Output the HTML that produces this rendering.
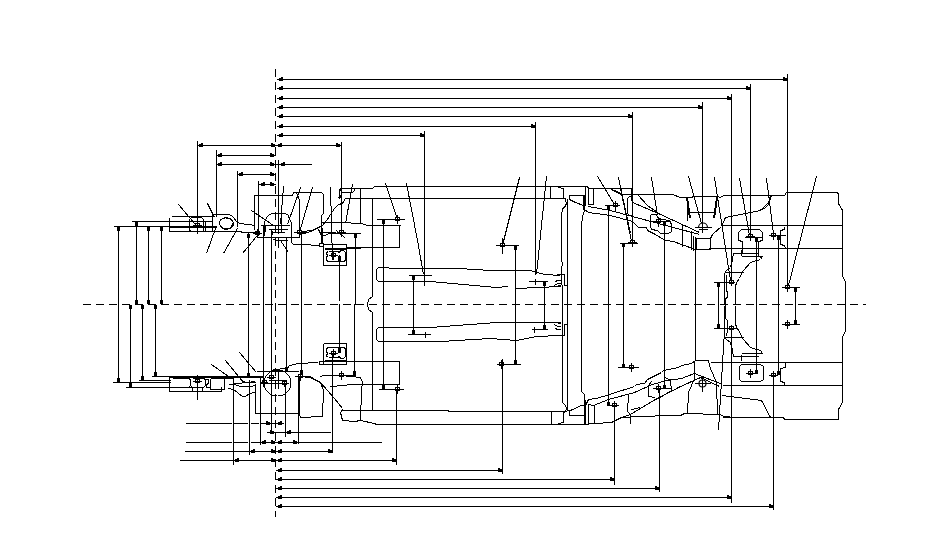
<!DOCTYPE html>
<html><head><meta charset="utf-8"><style>
html,body{margin:0;padding:0;background:#fff;width:950px;height:554px;overflow:hidden}
svg{display:block}
line,polyline,path,rect,circle,ellipse{stroke:#000;stroke-width:1;fill:none}
.f{fill:#000;stroke:none}
.c{shape-rendering:auto;stroke-width:1.2}
.d{stroke-dasharray:8 5}
.dv{stroke-dasharray:8 5}
</style></head><body>
<svg width="950" height="554" viewBox="0 0 950 554" shape-rendering="crispEdges">
<line x1="83" y1="304.5" x2="866" y2="304.5" class="d"/>
<line x1="275.5" y1="69" x2="275.5" y2="517" class="dv"/>
<line x1="277" y1="79.5" x2="788" y2="79.5"/>
<rect x="279" y="78" width="4" height="3" class="f"/>
<rect x="281" y="77" width="2" height="1" class="f"/>
<rect x="783" y="78" width="4" height="3" class="f"/>
<rect x="783" y="77" width="2" height="1" class="f"/>
<line x1="277" y1="88.5" x2="751" y2="88.5"/>
<rect x="279" y="87" width="4" height="3" class="f"/>
<rect x="281" y="86" width="2" height="1" class="f"/>
<rect x="746" y="87" width="4" height="3" class="f"/>
<rect x="746" y="86" width="2" height="1" class="f"/>
<line x1="277" y1="98.5" x2="732" y2="98.5"/>
<rect x="279" y="97" width="4" height="3" class="f"/>
<rect x="281" y="96" width="2" height="1" class="f"/>
<rect x="727" y="97" width="4" height="3" class="f"/>
<rect x="727" y="96" width="2" height="1" class="f"/>
<line x1="277" y1="107.5" x2="703" y2="107.5"/>
<rect x="279" y="106" width="4" height="3" class="f"/>
<rect x="281" y="105" width="2" height="1" class="f"/>
<rect x="698" y="106" width="4" height="3" class="f"/>
<rect x="698" y="105" width="2" height="1" class="f"/>
<line x1="277" y1="116.5" x2="633" y2="116.5"/>
<rect x="279" y="115" width="4" height="3" class="f"/>
<rect x="281" y="114" width="2" height="1" class="f"/>
<rect x="628" y="115" width="4" height="3" class="f"/>
<rect x="628" y="114" width="2" height="1" class="f"/>
<line x1="277" y1="126.5" x2="536" y2="126.5"/>
<rect x="279" y="125" width="4" height="3" class="f"/>
<rect x="281" y="124" width="2" height="1" class="f"/>
<rect x="531" y="125" width="4" height="3" class="f"/>
<rect x="531" y="124" width="2" height="1" class="f"/>
<line x1="277" y1="135.5" x2="425" y2="135.5"/>
<rect x="279" y="134" width="4" height="3" class="f"/>
<rect x="281" y="133" width="2" height="1" class="f"/>
<rect x="420" y="134" width="4" height="3" class="f"/>
<rect x="420" y="133" width="2" height="1" class="f"/>
<line x1="197" y1="145.5" x2="342" y2="145.5"/>
<rect x="199" y="144" width="4" height="3" class="f"/>
<rect x="201" y="143" width="2" height="1" class="f"/>
<rect x="271" y="144" width="4" height="3" class="f"/>
<rect x="271" y="143" width="2" height="1" class="f"/>
<rect x="278" y="144" width="4" height="3" class="f"/>
<rect x="280" y="143" width="2" height="1" class="f"/>
<rect x="336" y="144" width="4" height="3" class="f"/>
<rect x="336" y="143" width="2" height="1" class="f"/>
<line x1="197.5" y1="141" x2="197.5" y2="234"/>
<line x1="341.5" y1="142" x2="341.5" y2="231"/>
<line x1="216" y1="155.5" x2="276" y2="155.5"/>
<rect x="218" y="154" width="4" height="3" class="f"/>
<rect x="220" y="153" width="2" height="1" class="f"/>
<rect x="270" y="154" width="4" height="3" class="f"/>
<rect x="270" y="153" width="2" height="1" class="f"/>
<line x1="216" y1="164.5" x2="276" y2="164.5"/>
<rect x="218" y="163" width="4" height="3" class="f"/>
<rect x="220" y="162" width="2" height="1" class="f"/>
<rect x="270" y="163" width="4" height="3" class="f"/>
<rect x="270" y="162" width="2" height="1" class="f"/>
<line x1="275" y1="164.5" x2="312" y2="164.5"/>
<rect x="281" y="163" width="4" height="3" class="f"/>
<rect x="283" y="162" width="2" height="1" class="f"/>
<line x1="216.5" y1="150" x2="216.5" y2="217"/>
<line x1="237.5" y1="171" x2="237.5" y2="227"/>
<line x1="258.5" y1="181" x2="258.5" y2="236"/>
<line x1="278.5" y1="160" x2="278.5" y2="225"/>
<line x1="237" y1="174.5" x2="276" y2="174.5"/>
<rect x="239" y="173" width="4" height="3" class="f"/>
<rect x="241" y="172" width="2" height="1" class="f"/>
<rect x="270" y="173" width="4" height="3" class="f"/>
<rect x="270" y="172" width="2" height="1" class="f"/>
<line x1="259" y1="184.5" x2="276" y2="184.5"/>
<rect x="261" y="183" width="4" height="3" class="f"/>
<rect x="263" y="182" width="2" height="1" class="f"/>
<rect x="270" y="183" width="4" height="3" class="f"/>
<rect x="270" y="182" width="2" height="1" class="f"/>
<line x1="132" y1="221.5" x2="171" y2="221.5"/>
<line x1="114" y1="226.5" x2="171" y2="226.5"/>
<line x1="118.5" y1="226" x2="118.5" y2="382"/>
<rect x="117" y="227" width="3" height="4" class="f"/>
<rect x="119" y="229" width="1" height="2" class="f"/>
<rect x="117" y="378" width="3" height="4" class="f"/>
<rect x="119" y="378" width="1" height="2" class="f"/>
<line x1="136.5" y1="221" x2="136.5" y2="304"/>
<rect x="135" y="222" width="3" height="4" class="f"/>
<rect x="137" y="224" width="1" height="2" class="f"/>
<rect x="135" y="300" width="3" height="4" class="f"/>
<rect x="137" y="300" width="1" height="2" class="f"/>
<line x1="148.5" y1="226" x2="148.5" y2="304"/>
<rect x="147" y="227" width="3" height="4" class="f"/>
<rect x="149" y="229" width="1" height="2" class="f"/>
<rect x="147" y="300" width="3" height="4" class="f"/>
<rect x="149" y="300" width="1" height="2" class="f"/>
<line x1="161.5" y1="226" x2="161.5" y2="304"/>
<rect x="160" y="227" width="3" height="4" class="f"/>
<rect x="162" y="229" width="1" height="2" class="f"/>
<rect x="160" y="300" width="3" height="4" class="f"/>
<rect x="162" y="300" width="1" height="2" class="f"/>
<line x1="161" y1="304.5" x2="166" y2="304.5"/>
<line x1="130.5" y1="305" x2="130.5" y2="388"/>
<rect x="129" y="305" width="3" height="4" class="f"/>
<rect x="131" y="307" width="1" height="2" class="f"/>
<rect x="129" y="383" width="3" height="4" class="f"/>
<rect x="131" y="383" width="1" height="2" class="f"/>
<line x1="142.5" y1="305" x2="142.5" y2="381"/>
<rect x="141" y="305" width="3" height="4" class="f"/>
<rect x="143" y="307" width="1" height="2" class="f"/>
<rect x="141" y="376" width="3" height="4" class="f"/>
<rect x="143" y="376" width="1" height="2" class="f"/>
<line x1="155.5" y1="305" x2="155.5" y2="377"/>
<rect x="154" y="305" width="3" height="4" class="f"/>
<rect x="156" y="307" width="1" height="2" class="f"/>
<rect x="154" y="372" width="3" height="4" class="f"/>
<rect x="156" y="372" width="1" height="2" class="f"/>
<line x1="113" y1="382.5" x2="171" y2="382.5"/>
<line x1="126" y1="387.5" x2="171" y2="387.5"/>
<line x1="139" y1="380.5" x2="171" y2="380.5"/>
<line x1="152" y1="376.5" x2="171" y2="376.5"/>
<polyline points="171.5,216.5 212.5,216.5 213.5,214.5 229.5,214.5 232.5,216.5 237.5,222.5 240.5,223.5 255.5,225.5"/>
<line x1="169.5" y1="218" x2="169.5" y2="232"/>
<line x1="169" y1="231.5" x2="242" y2="231.5"/>
<line x1="241" y1="232.5" x2="257" y2="232.5"/>
<line x1="170" y1="221.5" x2="213" y2="221.5"/>
<line x1="170" y1="226.5" x2="217" y2="226.5"/>
<line x1="170" y1="227.5" x2="217" y2="227.5"/>
<polyline points="190.5,231.5 189.5,229.5 189.5,219.5 191.5,217.5 201.5,217.5 203.5,219.5 203.5,231.5"/>
<line x1="205.5" y1="222" x2="205.5" y2="232"/>
<line x1="212.5" y1="215" x2="212.5" y2="232"/>
<ellipse cx="226.5" cy="223.5" rx="7" ry="5.5" transform="rotate(15 226.5 223.5)"/>
<polyline points="220.5,219.5 225.5,217.5 230.5,218.5 233.5,222.5 230.5,228.5 224.5,229.5 220.5,226.5"/>
<line x1="178.5" y1="204.5" x2="195.5" y2="224.5"/>
<line x1="207.5" y1="203.5" x2="214.5" y2="217.5"/>
<line x1="206.5" y1="253.5" x2="215.5" y2="228.5"/>
<line x1="223.5" y1="253.5" x2="237.5" y2="228.5"/>
<line x1="242.5" y1="253.5" x2="256.5" y2="236.5"/>
<line x1="251.5" y1="210.5" x2="273.5" y2="225.5"/>
<line x1="254.5" y1="195" x2="254.5" y2="230"/>
<line x1="152" y1="376.5" x2="263" y2="376.5"/>
<line x1="170" y1="377.5" x2="263" y2="377.5"/>
<line x1="139" y1="380.5" x2="171" y2="380.5"/>
<line x1="126" y1="387.5" x2="193" y2="387.5"/>
<line x1="169.5" y1="376" x2="169.5" y2="392"/>
<line x1="169" y1="391.5" x2="222" y2="391.5"/>
<line x1="221.5" y1="387" x2="221.5" y2="392"/>
<polyline points="172.5,378.5 189.5,378.5 190.5,380.5 190.5,385.5 188.5,387.5 172.5,387.5"/>
<line x1="192.5" y1="387" x2="192.5" y2="392"/>
<line x1="202.5" y1="387" x2="202.5" y2="392"/>
<polyline points="224.5,378.5 233.5,378.5"/>
<line x1="224.5" y1="378" x2="224.5" y2="390"/>
<polyline points="205.5,379.5 208.5,379.5 208.5,383.5 206.5,384.5 206.5,387.5 209.5,387.5"/>
<polyline points="229.5,384.5 237.5,383.5 255.5,381.5"/>
<polyline points="192.5,378.5 204.5,378.5 205.5,380.5 205.5,385.5 203.5,387.5 192.5,387.5 190.5,385.5"/>
<polyline points="210.5,378.5 224.5,378.5 224.5,389.5 210.5,389.5 210.5,378.5"/>
<rect x="195.5" y="379.5" width="4" height="3" />
<line x1="193" y1="381.5" x2="202" y2="381.5"/>
<line x1="197.5" y1="377" x2="197.5" y2="386"/>
<rect x="247" y="373" width="3" height="4" class="f"/>
<rect x="249" y="373" width="1" height="2" class="f"/>
<rect x="247" y="234" width="3" height="4" class="f"/>
<rect x="249" y="236" width="1" height="2" class="f"/>
<rect x="195.5" y="223.5" width="4" height="3" />
<line x1="193" y1="225.5" x2="202" y2="225.5"/>
<line x1="197.5" y1="221" x2="197.5" y2="230"/>
<line x1="197.5" y1="375" x2="197.5" y2="400"/>
<line x1="211.5" y1="364.5" x2="228.5" y2="376.5"/>
<line x1="225.5" y1="360.5" x2="243.5" y2="382.5"/>
<line x1="239.5" y1="352.5" x2="256.5" y2="372.5"/>
<polyline points="228.5,388.5 233.5,389.5 242.5,396.5 245.5,396.5 249.5,393.5 255.5,392.5"/>
<polyline points="240.5,379.5 245.5,382.5 255.5,382.5"/>
<polyline points="234.5,384.5 240.5,386.5 250.5,386.5 255.5,385.5"/>
<polyline points="254.5,214.5 254.5,195.5 292.5,195.5 293.5,192.5 321.5,192.5 323.5,194.5 323.5,213.5 321.5,215.5 321.5,222.5"/>
<line x1="283.5" y1="186.5" x2="280.5" y2="224.5"/>
<line x1="300.5" y1="187.5" x2="287.5" y2="224.5"/>
<line x1="312.5" y1="187.5" x2="299.5" y2="232.5"/>
<line x1="330.5" y1="187" x2="332.5" y2="260"/>
<line x1="301.5" y1="232" x2="301.5" y2="304"/>
<line x1="286.5" y1="237" x2="286.5" y2="304"/>
<line x1="271.5" y1="230" x2="271.5" y2="304"/>
<line x1="263.5" y1="226" x2="263.5" y2="304"/>
<line x1="248.5" y1="233" x2="248.5" y2="377"/>
<polyline points="341.5,188.5 372.5,188.5 374.5,186.5 587.5,186.5"/>
<polyline points="345.5,198.5 565.5,198.5"/>
<line x1="360.5" y1="189" x2="360.5" y2="223"/>
<polyline points="321.5,222.5 340.5,222.5 361.5,223.5 367.5,225.5 400.5,225.5"/>
<line x1="352.5" y1="184.5" x2="345.5" y2="223.5"/>
<line x1="385.5" y1="183.5" x2="397.5" y2="219.5"/>
<line x1="406.5" y1="183.5" x2="417.5" y2="240.5"/>
<line x1="377" y1="219.5" x2="405" y2="219.5"/>
<rect x="382" y="220" width="3" height="4" class="f"/>
<rect x="384" y="222" width="1" height="2" class="f"/>
<rect x="395.5" y="217.5" width="4" height="3" />
<line x1="393" y1="219.5" x2="402" y2="219.5"/>
<line x1="397.5" y1="215" x2="397.5" y2="224"/>
<line x1="372.5" y1="199" x2="372.5" y2="297"/>
<polyline points="372.5,296.5 368.5,299.5 367.5,304.5 368.5,309.5 372.5,312.5"/>
<line x1="372.5" y1="312" x2="372.5" y2="411"/>
<polyline points="323.5,244.5 346.5,244.5 346.5,265.5 323.5,265.5 323.5,244.5"/>
<rect x="319.5" y="243.5" width="4" height="3" />
<line x1="325" y1="248.5" x2="361" y2="248.5"/>
<line x1="325" y1="249.5" x2="347" y2="249.5"/>
<polyline points="327.5,251.5 326.5,253.5 327.5,255.5 326.5,257.5 326.5,260.5 328.5,261.5 344.5,261.5 345.5,259.5 345.5,252.5 343.5,250.5 340.5,250.5 339.5,252.5 337.5,251.5 328.5,251.5"/>
<rect x="331.5" y="253.5" width="4" height="3" />
<line x1="329" y1="255.5" x2="338" y2="255.5"/>
<line x1="333.5" y1="251" x2="333.5" y2="260"/>
<rect x="338" y="256" width="3" height="5" class="f"/>
<polyline points="323.5,343.5 346.5,343.5 346.5,364.5 323.5,364.5 323.5,343.5"/>
<rect x="319.5" y="361.5" width="4" height="3" />
<line x1="325" y1="360.5" x2="347" y2="360.5"/>
<polyline points="327.5,357.5 326.5,355.5 327.5,353.5 326.5,351.5 326.5,348.5 328.5,347.5 344.5,347.5 345.5,349.5 345.5,356.5 343.5,358.5 340.5,358.5 339.5,356.5 337.5,357.5 328.5,357.5"/>
<rect x="331.5" y="351.5" width="4" height="3" />
<line x1="329" y1="353.5" x2="338" y2="353.5"/>
<line x1="333.5" y1="349" x2="333.5" y2="358"/>
<rect x="338" y="348" width="3" height="5" class="f"/>
<line x1="321.5" y1="222" x2="321.5" y2="244"/>
<line x1="322.5" y1="228" x2="322.5" y2="244"/>
<polyline points="302.5,231.5 311.5,230.5 316.5,229.5"/>
<polyline points="317.5,228.5 320.5,232.5 335.5,232.5"/>
<polyline points="322.5,235.5 325.5,235.5 328.5,233.5 335.5,233.5"/>
<polyline points="292.5,244.5 302.5,244.5 319.5,245.5"/>
<line x1="257" y1="237.5" x2="289" y2="237.5"/>
<line x1="339.5" y1="255" x2="339.5" y2="301"/>
<polyline points="345.5,198.5 342.5,203.5 338.5,204.5 334.5,208.5 330.5,214.5 327.5,219.5 322.5,225.5 310.5,231.5 300.5,234.5"/>
<polyline points="339.5,188.5 354.5,188.5 354.5,190.5 352.5,192.5 341.5,192.5"/>
<line x1="339.5" y1="189" x2="339.5" y2="199"/>
<line x1="338" y1="197.5" x2="342" y2="197.5"/>
<rect x="340" y="189" width="1" height="2" class="f"/>
<rect x="340" y="195" width="1" height="2" class="f"/>
<polyline points="378.5,267.5 388.5,267.5 389.5,268.5 458.5,268.5 490.5,270.5 530.5,270.5 544.5,274.5 560.5,275.5"/>
<polyline points="378.5,267.5 376.5,269.5 376.5,279.5 378.5,281.5 430.5,281.5 496.5,287.5 508.5,286.5"/>
<polyline points="516.5,288.5 560.5,286.5"/>
<polyline points="378.5,327.5 376.5,329.5 376.5,339.5 378.5,341.5 440.5,341.5 490.5,338.5 516.5,340.5 536.5,336.5 560.5,335.5"/>
<polyline points="378.5,327.5 430.5,327.5 496.5,322.5 560.5,322.5"/>
<line x1="413.5" y1="276" x2="413.5" y2="334"/>
<rect x="412" y="276" width="3" height="4" class="f"/>
<rect x="414" y="278" width="1" height="2" class="f"/>
<rect x="412" y="330" width="3" height="4" class="f"/>
<rect x="414" y="330" width="1" height="2" class="f"/>
<line x1="409" y1="275.5" x2="432" y2="275.5"/>
<line x1="408" y1="334.5" x2="431" y2="334.5"/>
<line x1="422.5" y1="334.5" x2="428.5" y2="334.5"/><line x1="425.5" y1="331.5" x2="425.5" y2="337.5"/>
<line x1="424.5" y1="131" x2="424.5" y2="286"/>
<line x1="515.5" y1="246" x2="515.5" y2="365"/>
<rect x="514" y="246" width="3" height="4" class="f"/>
<rect x="516" y="248" width="1" height="2" class="f"/>
<rect x="514" y="360" width="3" height="4" class="f"/>
<rect x="516" y="360" width="1" height="2" class="f"/>
<line x1="544.5" y1="281" x2="544.5" y2="330"/>
<rect x="543" y="282" width="3" height="4" class="f"/>
<rect x="545" y="284" width="1" height="2" class="f"/>
<rect x="543" y="325" width="3" height="4" class="f"/>
<rect x="545" y="325" width="1" height="2" class="f"/>
<line x1="529" y1="281.5" x2="548" y2="281.5"/>
<line x1="536" y1="329.5" x2="548" y2="329.5"/>
<line x1="532.5" y1="281.5" x2="538.5" y2="281.5"/><line x1="535.5" y1="278.5" x2="535.5" y2="284.5"/>
<line x1="531.5" y1="329.5" x2="537.5" y2="329.5"/><line x1="534.5" y1="326.5" x2="534.5" y2="332.5"/>
<line x1="355.5" y1="234" x2="355.5" y2="305"/>
<line x1="383.5" y1="220" x2="383.5" y2="305"/>
<line x1="346" y1="247.5" x2="400" y2="247.5"/>
<line x1="399.5" y1="225" x2="399.5" y2="248"/>
<line x1="417.5" y1="240.5" x2="423.5" y2="274.5"/>
<line x1="535.5" y1="122" x2="535.5" y2="275"/>
<line x1="550.5" y1="186" x2="550.5" y2="199"/>
<line x1="496" y1="245.5" x2="519" y2="245.5"/>
<rect x="500.5" y="243.5" width="4" height="3" />
<line x1="498" y1="245.5" x2="507" y2="245.5"/>
<line x1="502.5" y1="241" x2="502.5" y2="250"/>
<line x1="502.5" y1="238" x2="502.5" y2="254"/>
<line x1="519.5" y1="177.5" x2="502.5" y2="245.5"/>
<line x1="546.5" y1="176.5" x2="536.5" y2="274.5"/>
<polyline points="560.5,186.5 587.5,186.5 588.5,188.5 631.5,188.5"/>
<polyline points="558.5,187.5 563.5,188.5 563.5,198.5"/>
<polyline points="565.5,199.5 566.5,203.5 564.5,207.5 562.5,208.5 561.5,215.5 561.5,260.5 562.5,263.5 561.5,268.5 562.5,300.5 562.5,402.5 565.5,405.5 566.5,408.5 565.5,411.5 563.5,412.5 563.5,422.5 558.5,423.5"/>
<line x1="567.5" y1="199" x2="567.5" y2="411"/>
<polyline points="569.5,199.5 569.5,195.5 583.5,195.5"/>
<polyline points="569.5,199.5 575.5,202.5 583.5,205.5"/>
<line x1="583.5" y1="195" x2="583.5" y2="210"/>
<line x1="584.5" y1="195" x2="584.5" y2="210"/>
<polyline points="584.5,210.5 582.5,216.5 581.5,225.5 581.5,391.5 584.5,394.5 584.5,424.5"/>
<line x1="585.5" y1="400" x2="585.5" y2="425"/>
<line x1="585.5" y1="186" x2="585.5" y2="206"/>
<polyline points="588.5,188.5 588.5,204.5 593.5,204.5 593.5,188.5"/>
<polyline points="611.5,189.5 621.5,194.5 640.5,194.5"/>
<line x1="632.5" y1="112" x2="632.5" y2="242"/>
<line x1="597.5" y1="176.5" x2="614.5" y2="204.5"/>
<line x1="618.5" y1="177.5" x2="630.5" y2="233.5"/>
<line x1="605" y1="205.5" x2="620" y2="205.5"/>
<rect x="613.5" y="203.5" width="4" height="3" />
<line x1="611" y1="205.5" x2="620" y2="205.5"/>
<line x1="615.5" y1="201" x2="615.5" y2="210"/>
<line x1="615.5" y1="201" x2="615.5" y2="211"/>
<rect x="607" y="206" width="3" height="4" class="f"/>
<rect x="609" y="208" width="1" height="2" class="f"/>
<line x1="263.5" y1="304" x2="263.5" y2="387"/>
<line x1="271.5" y1="304" x2="271.5" y2="430"/>
<line x1="286.5" y1="304" x2="286.5" y2="371"/>
<rect x="285" y="367" width="3" height="4" class="f"/>
<rect x="287" y="367" width="1" height="2" class="f"/>
<line x1="301.5" y1="304" x2="301.5" y2="374"/>
<rect x="300" y="370" width="3" height="4" class="f"/>
<rect x="302" y="370" width="1" height="2" class="f"/>
<line x1="339.5" y1="304" x2="339.5" y2="351"/>
<rect x="338" y="347" width="3" height="4" class="f"/>
<rect x="340" y="347" width="1" height="2" class="f"/>
<line x1="354.5" y1="304" x2="354.5" y2="375"/>
<rect x="353" y="371" width="3" height="4" class="f"/>
<rect x="355" y="371" width="1" height="2" class="f"/>
<line x1="383.5" y1="304" x2="383.5" y2="389"/>
<rect x="382" y="385" width="3" height="4" class="f"/>
<rect x="384" y="385" width="1" height="2" class="f"/>
<line x1="249.5" y1="380" x2="249.5" y2="455"/>
<line x1="260.5" y1="376" x2="260.5" y2="445"/>
<line x1="298.5" y1="377" x2="298.5" y2="444"/>
<line x1="332.5" y1="354" x2="332.5" y2="453"/>
<line x1="396.5" y1="389" x2="396.5" y2="465"/>
<line x1="299.5" y1="377" x2="299.5" y2="416"/>
<polyline points="318.5,361.5 399.5,361.5 399.5,384.5 360.5,384.5"/>
<polyline points="298.5,376.5 310.5,377.5 320.5,382.5 323.5,390.5 322.5,416.5 300.5,417.5 298.5,410.5"/>
<polyline points="320.5,376.5 323.5,375.5 340.5,375.5 360.5,377.5 362.5,382.5 361.5,390.5 360.5,420.5 354.5,421.5 342.5,420.5 340.5,412.5 342.5,409.5"/>
<line x1="342" y1="410.5" x2="449" y2="410.5"/>
<line x1="448" y1="411.5" x2="566" y2="411.5"/>
<line x1="376" y1="424.5" x2="589" y2="424.5"/>
<line x1="551.5" y1="411" x2="551.5" y2="425"/>
<polyline points="360.5,420.5 374.5,423.5 376.5,424.5"/>
<polyline points="320.5,382.5 334.5,398.5 342.5,408.5"/>
<ellipse cx="277.5" cy="383" rx="13.5" ry="13"/>
<line x1="255.5" y1="384" x2="255.5" y2="414"/>
<line x1="255" y1="413.5" x2="299" y2="413.5"/>
<line x1="342" y1="375.5" x2="356" y2="375.5"/>
<rect x="339.5" y="373.5" width="4" height="3" />
<line x1="337" y1="375.5" x2="346" y2="375.5"/>
<line x1="341.5" y1="371" x2="341.5" y2="380"/>
<line x1="379" y1="389.5" x2="404" y2="389.5"/>
<rect x="395.5" y="387.5" width="4" height="3" />
<line x1="393" y1="389.5" x2="402" y2="389.5"/>
<line x1="397.5" y1="385" x2="397.5" y2="394"/>
<line x1="497" y1="364.5" x2="521" y2="364.5"/>
<rect x="499.5" y="362.5" width="4" height="3" />
<line x1="497" y1="364.5" x2="506" y2="364.5"/>
<line x1="501.5" y1="360" x2="501.5" y2="369"/>
<line x1="502.5" y1="359" x2="502.5" y2="474"/>
<line x1="186" y1="423.5" x2="232" y2="423.5"/>
<line x1="234" y1="423.5" x2="248" y2="423.5"/>
<line x1="251" y1="423.5" x2="259" y2="423.5"/>
<line x1="261" y1="423.5" x2="284" y2="423.5"/>
<rect x="266" y="422" width="4" height="3" class="f"/>
<rect x="266" y="421" width="2" height="1" class="f"/>
<rect x="278" y="422" width="4" height="3" class="f"/>
<rect x="280" y="421" width="2" height="1" class="f"/>
<line x1="267" y1="432.5" x2="331" y2="432.5"/>
<rect x="270" y="431" width="4" height="3" class="f"/>
<rect x="270" y="430" width="2" height="1" class="f"/>
<rect x="287" y="431" width="4" height="3" class="f"/>
<rect x="289" y="430" width="2" height="1" class="f"/>
<line x1="186" y1="442.5" x2="232" y2="442.5"/>
<line x1="234" y1="442.5" x2="248" y2="442.5"/>
<line x1="251" y1="442.5" x2="382" y2="442.5"/>
<rect x="262" y="441" width="4" height="3" class="f"/>
<rect x="264" y="440" width="2" height="1" class="f"/>
<rect x="271" y="441" width="4" height="3" class="f"/>
<rect x="271" y="440" width="2" height="1" class="f"/>
<rect x="278" y="441" width="4" height="3" class="f"/>
<rect x="280" y="440" width="2" height="1" class="f"/>
<rect x="293" y="441" width="4" height="3" class="f"/>
<rect x="293" y="440" width="2" height="1" class="f"/>
<line x1="185" y1="451.5" x2="333" y2="451.5"/>
<rect x="251" y="450" width="4" height="3" class="f"/>
<rect x="253" y="449" width="2" height="1" class="f"/>
<rect x="271" y="450" width="4" height="3" class="f"/>
<rect x="271" y="449" width="2" height="1" class="f"/>
<rect x="278" y="450" width="4" height="3" class="f"/>
<rect x="280" y="449" width="2" height="1" class="f"/>
<rect x="328" y="450" width="4" height="3" class="f"/>
<rect x="328" y="449" width="2" height="1" class="f"/>
<line x1="180" y1="460.5" x2="397" y2="460.5"/>
<rect x="235" y="459" width="4" height="3" class="f"/>
<rect x="237" y="458" width="2" height="1" class="f"/>
<rect x="271" y="459" width="4" height="3" class="f"/>
<rect x="271" y="458" width="2" height="1" class="f"/>
<rect x="278" y="459" width="4" height="3" class="f"/>
<rect x="280" y="458" width="2" height="1" class="f"/>
<rect x="392" y="459" width="4" height="3" class="f"/>
<rect x="392" y="458" width="2" height="1" class="f"/>
<line x1="276" y1="470.5" x2="503" y2="470.5"/>
<rect x="278" y="469" width="4" height="3" class="f"/>
<rect x="280" y="468" width="2" height="1" class="f"/>
<rect x="498" y="469" width="4" height="3" class="f"/>
<rect x="498" y="468" width="2" height="1" class="f"/>
<line x1="276" y1="479.5" x2="615" y2="479.5"/>
<rect x="278" y="478" width="4" height="3" class="f"/>
<rect x="280" y="477" width="2" height="1" class="f"/>
<rect x="610" y="478" width="4" height="3" class="f"/>
<rect x="610" y="477" width="2" height="1" class="f"/>
<line x1="276" y1="488.5" x2="660" y2="488.5"/>
<rect x="278" y="487" width="4" height="3" class="f"/>
<rect x="280" y="486" width="2" height="1" class="f"/>
<rect x="655" y="487" width="4" height="3" class="f"/>
<rect x="655" y="486" width="2" height="1" class="f"/>
<line x1="276" y1="497.5" x2="732" y2="497.5"/>
<rect x="278" y="496" width="4" height="3" class="f"/>
<rect x="280" y="495" width="2" height="1" class="f"/>
<rect x="727" y="496" width="4" height="3" class="f"/>
<rect x="727" y="495" width="2" height="1" class="f"/>
<line x1="276" y1="506.5" x2="774" y2="506.5"/>
<rect x="278" y="505" width="4" height="3" class="f"/>
<rect x="280" y="504" width="2" height="1" class="f"/>
<rect x="769" y="505" width="4" height="3" class="f"/>
<rect x="769" y="504" width="2" height="1" class="f"/>
<line x1="233.5" y1="377" x2="233.5" y2="465"/>
<line x1="285.5" y1="384" x2="285.5" y2="437"/>
<line x1="731.5" y1="94" x2="731.5" y2="280"/>
<line x1="731.5" y1="331" x2="731.5" y2="503"/>
<polyline points="622.5,194.5 672.5,194.5 680.5,197.5 691.5,197.5 693.5,196.5 717.5,196.5 720.5,197.5 723.5,195.5 784.5,195.5 786.5,192.5 837.5,192.5"/>
<line x1="620" y1="243.5" x2="638" y2="243.5"/>
<rect x="630.5" y="240.5" width="4" height="3" />
<line x1="628" y1="242.5" x2="637" y2="242.5"/>
<line x1="632.5" y1="238" x2="632.5" y2="247"/>
<rect x="622" y="243" width="3" height="4" class="f"/>
<rect x="624" y="245" width="1" height="2" class="f"/>
<line x1="620.5" y1="188.5" x2="631.5" y2="241.5"/>
<polyline points="686.5,197.5 689.5,218.5"/>
<polyline points="687.5,197.5 690.5,218.5"/>
<polyline points="717.5,197.5 714.5,218.5"/>
<polyline points="716.5,197.5 713.5,218.5"/>
<polyline points="689.5,212.5 714.5,212.5"/>
<path d="M698.5,227.5 A4.5,4.5 0 0 1 707.5,227.5" class="c"/>
<line x1="695" y1="227.5" x2="712" y2="227.5"/>
<line x1="699" y1="229.5" x2="708" y2="229.5"/>
<line x1="702.5" y1="219" x2="702.5" y2="233"/>
<polyline points="696.5,238.5 696.5,249.5 710.5,249.5 710.5,238.5 712.5,234.5 721.5,226.5"/>
<line x1="696" y1="238.5" x2="711" y2="238.5"/>
<line x1="693.5" y1="236" x2="693.5" y2="251"/>
<rect x="656.5" y="219.5" width="4" height="3" />
<line x1="654" y1="221.5" x2="663" y2="221.5"/>
<line x1="658.5" y1="217" x2="658.5" y2="226"/>
<line x1="652" y1="221.5" x2="669" y2="221.5"/>
<line x1="658.5" y1="217" x2="658.5" y2="227"/>
<rect x="663" y="222" width="3" height="4" class="f"/>
<rect x="665" y="224" width="1" height="2" class="f"/>
<line x1="721" y1="225.5" x2="842" y2="225.5"/>
<polyline points="721.5,226.5 725.5,217.5 760.5,210.5 768.5,202.5 770.5,195.5"/>
<polyline points="741.5,229.5 759.5,229.5 762.5,232.5 762.5,240.5 758.5,241.5 758.5,256.5 762.5,257.5"/>
<polyline points="741.5,229.5 738.5,232.5 738.5,240.5 742.5,241.5 742.5,253.5 733.5,253.5"/>
<rect x="748.5" y="234.5" width="4" height="3" />
<line x1="746" y1="236.5" x2="755" y2="236.5"/>
<line x1="750.5" y1="232" x2="750.5" y2="241"/>
<line x1="745" y1="237.5" x2="762" y2="237.5"/>
<line x1="750.5" y1="84" x2="750.5" y2="235"/>
<line x1="702.5" y1="102" x2="702.5" y2="222"/>
<rect x="755" y="238" width="3" height="4" class="f"/>
<rect x="757" y="240" width="1" height="2" class="f"/>
<polyline points="784.5,226.5 784.5,229.5 780.5,230.5 780.5,244.5 784.5,245.5 785.5,248.5"/>
<rect x="771.5" y="233.5" width="4" height="3" />
<line x1="769" y1="235.5" x2="778" y2="235.5"/>
<line x1="773.5" y1="231" x2="773.5" y2="240"/>
<line x1="769" y1="235.5" x2="786" y2="235.5"/>
<rect x="777" y="236" width="3" height="4" class="f"/>
<rect x="779" y="238" width="1" height="2" class="f"/>
<line x1="787.5" y1="74" x2="787.5" y2="285"/>
<line x1="688.5" y1="176.5" x2="701.5" y2="223.5"/>
<line x1="714.5" y1="177.5" x2="730.5" y2="280.5"/>
<line x1="739.5" y1="178.5" x2="749.5" y2="235.5"/>
<line x1="766.5" y1="178.5" x2="773.5" y2="233.5"/>
<polyline points="835.5,192.5 837.5,192.5 838.5,194.5 838.5,203.5 842.5,210.5 842.5,276.5 845.5,281.5 845.5,330.5 842.5,337.5 842.5,402.5"/>
<polyline points="760.5,209.5 764.5,208.5 768.5,204.5 771.5,195.5"/>
<line x1="816.5" y1="176.5" x2="788.5" y2="285.5"/>
<rect x="785.5" y="285.5" width="4" height="3" />
<line x1="783" y1="287.5" x2="792" y2="287.5"/>
<line x1="787.5" y1="283" x2="787.5" y2="292"/>
<line x1="782" y1="287.5" x2="800" y2="287.5"/>
<line x1="782" y1="324.5" x2="800" y2="324.5"/>
<rect x="785.5" y="322.5" width="4" height="3" />
<line x1="783" y1="324.5" x2="792" y2="324.5"/>
<line x1="787.5" y1="320" x2="787.5" y2="329"/>
<line x1="795.5" y1="288" x2="795.5" y2="324"/>
<rect x="794" y="288" width="3" height="4" class="f"/>
<rect x="796" y="290" width="1" height="2" class="f"/>
<rect x="794" y="320" width="3" height="4" class="f"/>
<rect x="796" y="320" width="1" height="2" class="f"/>
<line x1="695.5" y1="237" x2="695.5" y2="361"/>
<polyline points="741.5,256.5 762.5,256.5 760.5,259.5 753.5,261.5 750.5,262.5 743.5,270.5 741.5,273.5 739.5,278.5 736.5,282.5 735.5,286.5 735.5,304.5"/>
<polyline points="735.5,305.5 735.5,323.5 736.5,327.5 739.5,331.5 741.5,336.5 743.5,339.5 750.5,347.5 753.5,348.5 760.5,350.5 762.5,353.5 741.5,353.5"/>
<polyline points="733.5,253.5 732.5,259.5 730.5,267.5 726.5,270.5 724.5,273.5 724.5,304.5"/>
<polyline points="724.5,305.5 724.5,336.5 726.5,339.5 730.5,342.5 732.5,350.5 733.5,356.5"/>
<polyline points="741.5,249.5 741.5,255.5"/>
<polyline points="741.5,354.5 741.5,360.5"/>
<line x1="733" y1="253.5" x2="759" y2="253.5"/>
<line x1="733" y1="356.5" x2="759" y2="356.5"/>
<polyline points="726.5,274.5 726.5,290.5 727.5,292.5 727.5,297.5 725.5,298.5 725.5,318.5 727.5,320.5 727.5,330.5 726.5,336.5"/>
<line x1="718.5" y1="283" x2="718.5" y2="328"/>
<rect x="717" y="283" width="3" height="4" class="f"/>
<rect x="719" y="285" width="1" height="2" class="f"/>
<rect x="717" y="324" width="3" height="4" class="f"/>
<rect x="719" y="324" width="1" height="2" class="f"/>
<line x1="714" y1="282.5" x2="731" y2="282.5"/>
<line x1="714" y1="328.5" x2="737" y2="328.5"/>
<rect x="729.5" y="280.5" width="4" height="3" />
<line x1="728" y1="282.5" x2="735" y2="282.5"/>
<line x1="731.5" y1="279" x2="731.5" y2="286"/>
<rect x="729.5" y="326.5" width="4" height="3" />
<line x1="728" y1="328.5" x2="735" y2="328.5"/>
<line x1="731.5" y1="325" x2="731.5" y2="332"/>
<line x1="725" y1="337.5" x2="744" y2="337.5"/>
<line x1="725" y1="272.5" x2="744" y2="272.5"/>
<line x1="711" y1="362.5" x2="843" y2="362.5"/>
<line x1="709" y1="248.5" x2="843" y2="248.5"/>
<line x1="608.5" y1="206" x2="608.5" y2="406"/>
<rect x="607" y="402" width="3" height="4" class="f"/>
<rect x="609" y="402" width="1" height="2" class="f"/>
<rect x="612.5" y="403.5" width="4" height="3" />
<line x1="610" y1="405.5" x2="619" y2="405.5"/>
<line x1="614.5" y1="401" x2="614.5" y2="410"/>
<line x1="614.5" y1="405" x2="614.5" y2="485"/>
<line x1="623.5" y1="243" x2="623.5" y2="368"/>
<rect x="622" y="364" width="3" height="4" class="f"/>
<rect x="624" y="364" width="1" height="2" class="f"/>
<rect x="629.5" y="365.5" width="4" height="3" />
<line x1="627" y1="367.5" x2="636" y2="367.5"/>
<line x1="631.5" y1="363" x2="631.5" y2="372"/>
<line x1="618" y1="367.5" x2="639" y2="367.5"/>
<line x1="664.5" y1="222" x2="664.5" y2="389"/>
<rect x="663" y="385" width="3" height="4" class="f"/>
<rect x="665" y="385" width="1" height="2" class="f"/>
<rect x="656.5" y="386.5" width="4" height="3" />
<line x1="654" y1="388.5" x2="663" y2="388.5"/>
<line x1="658.5" y1="384" x2="658.5" y2="393"/>
<line x1="653" y1="388.5" x2="671" y2="388.5"/>
<line x1="659.5" y1="388" x2="659.5" y2="492"/>
<line x1="695.5" y1="237" x2="695.5" y2="361"/>
<circle cx="702.5" cy="383.5" r="3.5" class="c"/>
<line x1="695" y1="383.5" x2="711" y2="383.5"/>
<line x1="702.5" y1="376" x2="702.5" y2="392"/>
<polyline points="630.5,416.5 680.5,415.5 684.5,413.5 720.5,414.5 723.5,416.5 735.5,417.5"/>
<polyline points="694.5,361.5 694.5,378.5 688.5,392.5 687.5,414.5"/>
<polyline points="708.5,361.5 710.5,368.5 716.5,382.5 717.5,414.5"/>
<polyline points="665.5,377.5 670.5,380.5 671.5,390.5 666.5,393.5"/>
<polyline points="651.5,381.5 648.5,385.5 648.5,396.5 655.5,397.5"/>
<line x1="724.5" y1="330.5" x2="718.5" y2="430.5"/>
<line x1="756.5" y1="238" x2="756.5" y2="374"/>
<rect x="755" y="370" width="3" height="4" class="f"/>
<rect x="757" y="370" width="1" height="2" class="f"/>
<line x1="778.5" y1="237" x2="778.5" y2="375"/>
<rect x="777" y="371" width="3" height="4" class="f"/>
<rect x="779" y="371" width="1" height="2" class="f"/>
<rect x="748.5" y="371.5" width="4" height="3" />
<line x1="746" y1="373.5" x2="755" y2="373.5"/>
<line x1="750.5" y1="369" x2="750.5" y2="378"/>
<rect x="771.5" y="373.5" width="4" height="3" />
<line x1="769" y1="375.5" x2="778" y2="375.5"/>
<line x1="773.5" y1="371" x2="773.5" y2="380"/>
<line x1="773.5" y1="375" x2="773.5" y2="510"/>
<line x1="723" y1="385.5" x2="843" y2="385.5"/>
<polyline points="842.5,402.5 838.5,409.5 838.5,419.5 784.5,419.5 783.5,417.5 722.5,417.5"/>
<polyline points="741.5,364.5 760.5,364.5 763.5,366.5 763.5,379.5 760.5,381.5 741.5,381.5 739.5,379.5 739.5,366.5 741.5,364.5"/>
<polyline points="785.5,362.5 785.5,367.5 780.5,368.5 780.5,381.5 784.5,382.5 784.5,385.5"/>
<polyline points="722.5,395.5 761.5,400.5 770.5,417.5"/>
<polyline points="330.5,386.5 343.5,385.5 351.5,384.5 362.5,384.5"/>
<polyline points="296.5,192.5 299.5,200.5 299.5,229.5"/>
<line x1="317.5" y1="228.5" x2="323.5" y2="238.5"/>
<line x1="336.5" y1="230.5" x2="345.5" y2="238.5"/>
<polyline points="264.5,235.5 264.5,222.5 266.5,217.5 269.5,214.5 272.5,213.5 285.5,213.5 288.5,215.5 289.5,219.5 291.5,222.5 291.5,242.5 293.5,244.5"/>
<line x1="257" y1="237.5" x2="300" y2="237.5"/>
<line x1="261" y1="225.5" x2="290" y2="225.5"/>
<line x1="269" y1="229.5" x2="288" y2="229.5"/>
<line x1="272" y1="232.5" x2="285" y2="232.5"/>
<line x1="278.5" y1="209" x2="278.5" y2="234"/>
<line x1="281.5" y1="211" x2="281.5" y2="233"/>
<rect x="297.5" y="230.5" width="4" height="3" />
<line x1="294" y1="232.5" x2="305" y2="232.5"/>
<line x1="299.5" y1="227" x2="299.5" y2="238"/>
<rect x="255.5" y="231.5" width="4" height="3" />
<line x1="253" y1="233.5" x2="262" y2="233.5"/>
<line x1="257.5" y1="229" x2="257.5" y2="238"/>
<rect x="264" y="225" width="2" height="7" class="f"/>
<rect x="271" y="231" width="2" height="4" class="f"/>
<polyline points="273.5,239.5 277.5,240.5 287.5,240.5"/>
<line x1="280.5" y1="240.5" x2="288.5" y2="252.5"/>
<line x1="278.5" y1="238" x2="278.5" y2="248"/>
<polyline points="257.5,371.5 270.5,371.5 273.5,369.5 287.5,368.5 289.5,365.5 298.5,363.5 318.5,362.5"/>
<line x1="269" y1="380.5" x2="287" y2="380.5"/>
<line x1="278.5" y1="372" x2="278.5" y2="389"/>
<rect x="269.5" y="375.5" width="4" height="3" />
<line x1="267" y1="377.5" x2="276" y2="377.5"/>
<line x1="271.5" y1="373" x2="271.5" y2="382"/>
<rect x="298.5" y="374.5" width="4" height="3" />
<line x1="296" y1="376.5" x2="305" y2="376.5"/>
<line x1="300.5" y1="372" x2="300.5" y2="381"/>
<line x1="257" y1="371.5" x2="299" y2="371.5"/>
<line x1="261" y1="383.5" x2="289" y2="383.5"/>
<rect x="282.5" y="381.5" width="4" height="3" />
<line x1="281" y1="383.5" x2="288" y2="383.5"/>
<line x1="284.5" y1="380" x2="284.5" y2="387"/>
<rect x="262.5" y="380.5" width="4" height="3" />
<line x1="261" y1="382.5" x2="268" y2="382.5"/>
<line x1="264.5" y1="379" x2="264.5" y2="386"/>
<line x1="295" y1="376.5" x2="311" y2="376.5"/>
<polyline points="299.5,376.5 304.5,376.5 312.5,377.5 315.5,380.5"/>
<polyline points="588.5,206.5 610.5,210.5 632.5,216.5 699.5,234.5"/>
<polyline points="584.5,209.5 588.5,212.5 610.5,215.5 632.5,221.5 638.5,227.5 646.5,227.5 647.5,230.5 653.5,233.5 665.5,240.5 673.5,241.5 681.5,244.5 695.5,249.5"/>
<polyline points="632.5,202.5 658.5,213.5 699.5,232.5"/>
<polyline points="614.5,190.5 622.5,194.5"/>
<polyline points="637.5,194.5 647.5,205.5 660.5,214.5"/>
<polyline points="631.5,196.5 629.5,196.5 627.5,198.5 627.5,213.5 629.5,215.5 631.5,215.5"/>
<polyline points="650.5,214.5 656.5,214.5 657.5,217.5 662.5,219.5 669.5,220.5 671.5,224.5 671.5,231.5 668.5,233.5 660.5,233.5 657.5,230.5 651.5,229.5 650.5,226.5 650.5,214.5"/>
<line x1="651.5" y1="177.5" x2="657.5" y2="215.5"/>
<line x1="631.5" y1="189" x2="631.5" y2="201"/>
<line x1="687.5" y1="198" x2="687.5" y2="221"/>
<line x1="682.5" y1="224" x2="682.5" y2="247"/>
<line x1="691.5" y1="231" x2="691.5" y2="250"/>
<rect x="339.5" y="230.5" width="4" height="3" />
<line x1="337" y1="232.5" x2="346" y2="232.5"/>
<line x1="341.5" y1="228" x2="341.5" y2="237"/>
<line x1="336" y1="233.5" x2="361" y2="233.5"/>
<rect x="354" y="234" width="3" height="4" class="f"/>
<rect x="356" y="236" width="1" height="2" class="f"/>
<polyline points="556.5,274.5 564.5,274.5 564.5,285.5 567.5,285.5"/>
<polyline points="555.5,281.5 557.5,280.5 560.5,280.5"/>
<polyline points="554.5,285.5 557.5,283.5 560.5,283.5"/>
<rect x="558" y="285" width="3" height="2" class="f"/>
<polyline points="556.5,335.5 564.5,335.5 564.5,324.5 567.5,324.5"/>
<polyline points="555.5,328.5 557.5,329.5 560.5,329.5"/>
<polyline points="554.5,324.5 557.5,326.5 560.5,326.5"/>
<rect x="558" y="322" width="3" height="2" class="f"/>
<polyline points="564.5,411.5 570.5,410.5 581.5,405.5 585.5,405.5 588.5,399.5 596.5,398.5 609.5,394.5 634.5,386.5 636.5,384.5 644.5,383.5 647.5,379.5 661.5,372.5 663.5,370.5 678.5,367.5 681.5,365.5 691.5,363.5 695.5,360.5 708.5,360.5"/>
<polyline points="588.5,404.5 593.5,405.5 608.5,399.5 634.5,392.5 652.5,384.5 666.5,380.5 681.5,378.5 694.5,373.5 722.5,384.5"/>
<polyline points="569.5,410.5 569.5,415.5 583.5,415.5"/>
<polyline points="588.5,404.5 588.5,423.5 594.5,423.5 594.5,405.5"/>
<polyline points="594.5,423.5 611.5,422.5 621.5,417.5 630.5,417.5"/>
<polyline points="621.5,417.5 630.5,414.5 653.5,400.5 661.5,396.5 678.5,387.5 700.5,377.5 719.5,386.5"/>
<polyline points="628.5,395.5 627.5,411.5 630.5,414.5 630.5,423.5"/>
<polyline points="631.5,409.5 640.5,407.5"/>
</svg>
</body></html>
